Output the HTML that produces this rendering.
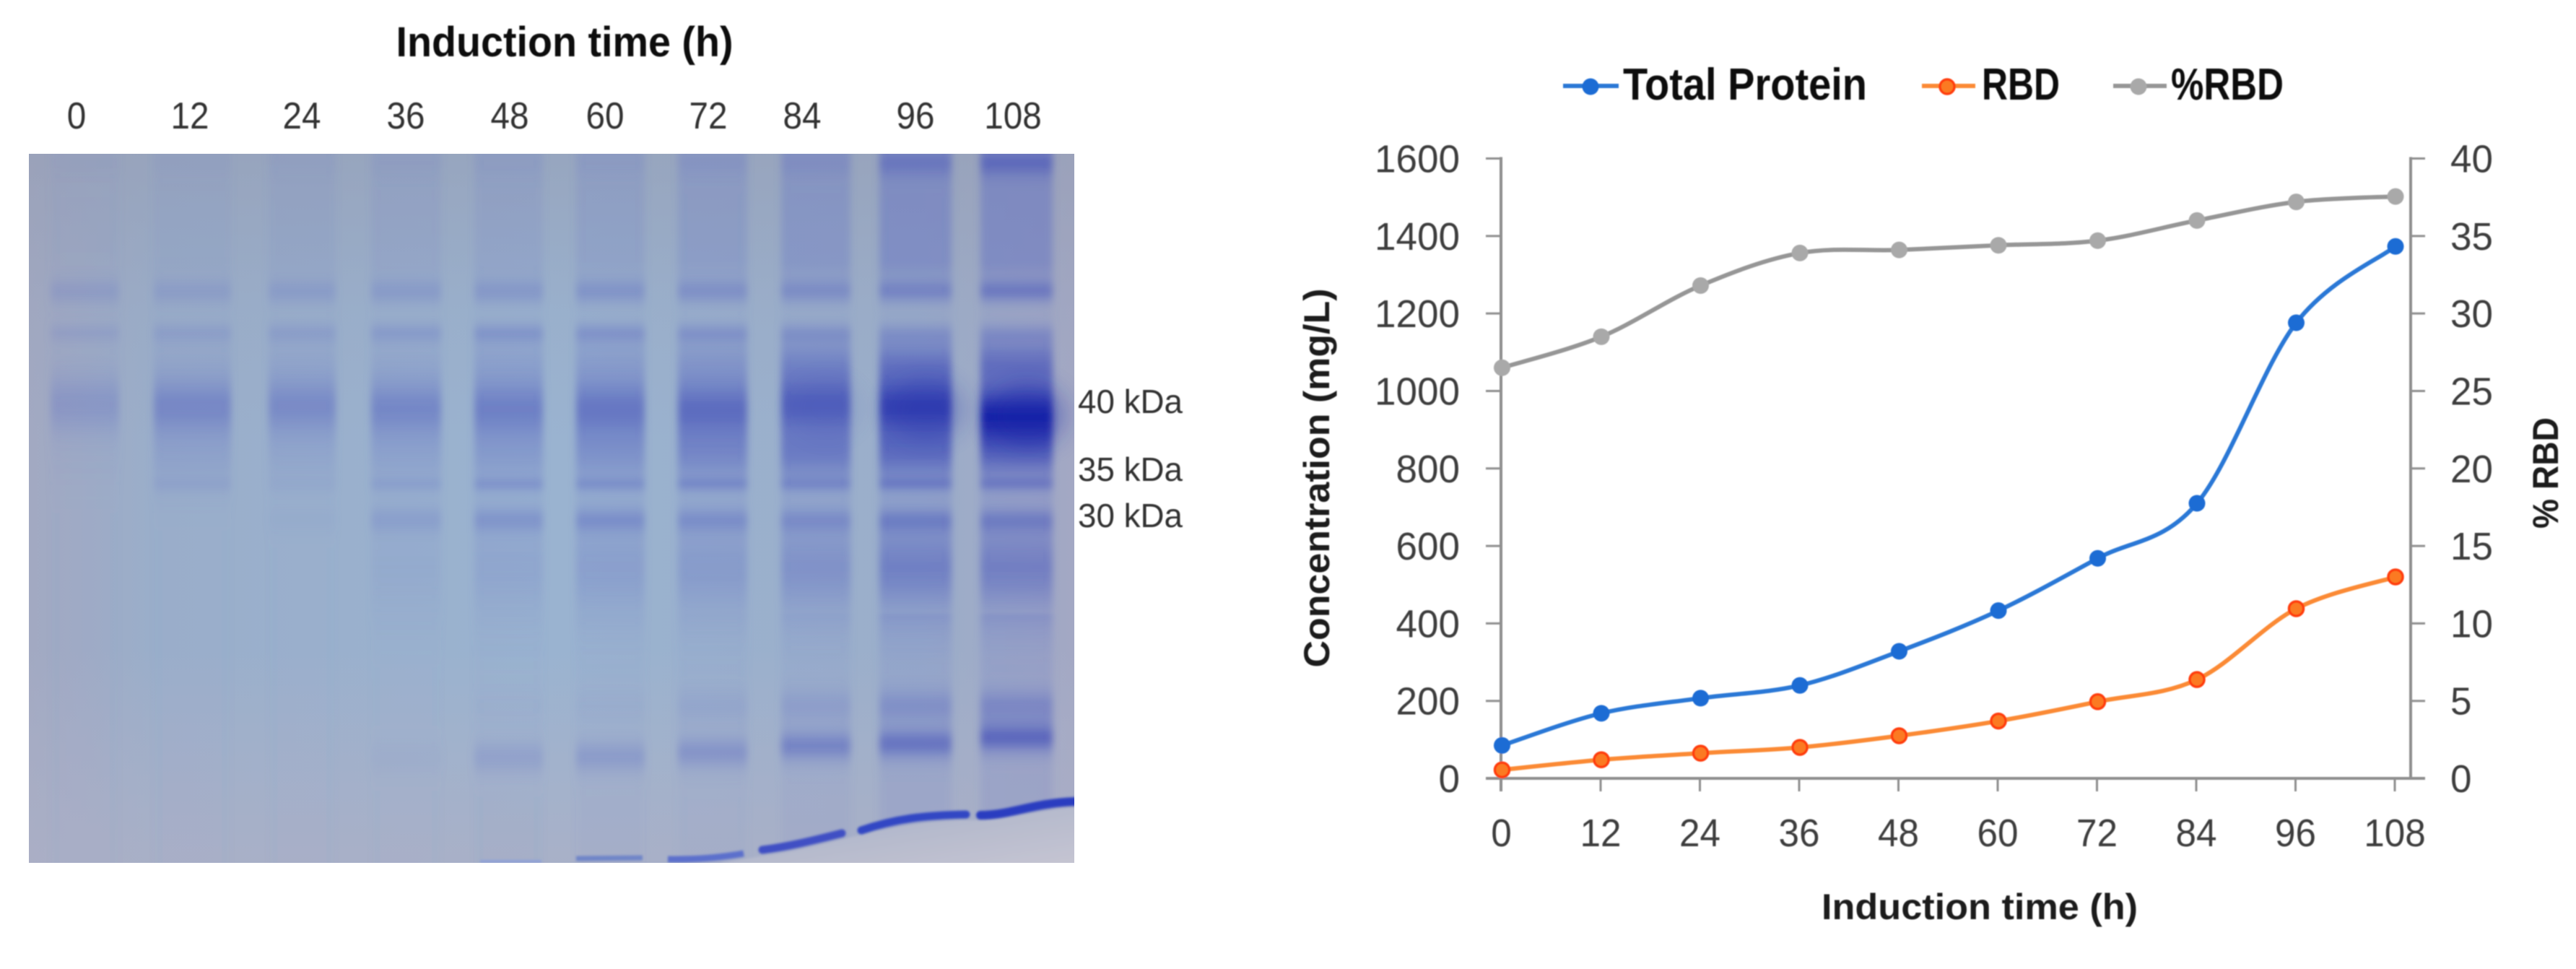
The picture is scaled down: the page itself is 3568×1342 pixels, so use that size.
<!DOCTYPE html>
<html lang="en">
<head>
<meta charset="utf-8">
<title>SDS-PAGE gel and induction time chart</title>
<style>
  html,body{margin:0;padding:0;background:#fff;}
  body{width:3568px;height:1342px;overflow:hidden;}
  svg{display:block;}
  text{font-family:"Liberation Sans",sans-serif;}
</style>
</head>
<body>
<svg id="figure" xmlns="http://www.w3.org/2000/svg" width="3568" height="1342" viewBox="0 0 3568 1342">
  <defs>
    <filter id="soft" x="-2%" y="-2%" width="104%" height="104%"><feGaussianBlur stdDeviation="0.9"/></filter>
    <filter id="laneBlur" x="-30%" y="-5%" width="160%" height="110%"><feGaussianBlur stdDeviation="5 2"/></filter>
    <filter id="dyeBlur" x="-5%" y="-50%" width="110%" height="200%"><feGaussianBlur stdDeviation="1.6"/></filter>
    <filter id="bulgeBlur" x="-30%" y="-30%" width="160%" height="160%"><feGaussianBlur stdDeviation="16"/></filter>
    <clipPath id="gelClip"><rect x="40" y="213" width="1448" height="982"/></clipPath>
    <linearGradient id="gelH" x1="0" x2="1" y1="0" y2="0">
      <stop offset="0" stop-color="#a2a9c2"/>
      <stop offset="0.12" stop-color="#9aaeca"/>
      <stop offset="0.5" stop-color="#9ab3d0"/>
      <stop offset="0.85" stop-color="#9baeca"/>
      <stop offset="1" stop-color="#a3a8c4"/>
    </linearGradient>
    <linearGradient id="gelTop" x1="0" x2="0" y1="0" y2="1">
      <stop offset="0" stop-color="#959db4" stop-opacity="0.6"/>
      <stop offset="0.22" stop-color="#959db4" stop-opacity="0.15"/>
      <stop offset="0.4" stop-color="#959db4" stop-opacity="0"/>
    </linearGradient>
    <linearGradient id="gelBottom" x1="0" x2="0" y1="0" y2="1">
      <stop offset="0.7" stop-color="#aeb2c8" stop-opacity="0"/>
      <stop offset="1" stop-color="#acb0c6" stop-opacity="0.8"/>
    </linearGradient>
    <linearGradient id="frontWash" x1="0" x2="1" y1="0" y2="1">
      <stop offset="0" stop-color="#a6b0c8"/>
      <stop offset="1" stop-color="#c6c5d2"/>
    </linearGradient>
  </defs>

  <g id="gel-panel">
    <g clip-path="url(#gelClip)">
      <rect x="40" y="213" width="1448" height="982" fill="url(#gelH)"/>
      <rect x="40" y="213" width="1448" height="982" fill="url(#gelTop)"/>
      <rect x="40" y="213" width="1448" height="982" fill="url(#gelBottom)"/>
      <g id="gel-lanes"></g>
      <path d="M1000 1195 L1053 1186 C1120 1176 1170 1160 1195 1156 C1260 1138 1310 1136 1345 1136 C1400 1134 1440 1120 1495 1118 L1495 1200 L1000 1200 Z" fill="url(#frontWash)" filter="url(#dyeBlur)"/>
      <g id="gel-dye" filter="url(#dyeBlur)">
        <path d="M665 1193 L750 1193" stroke="#8ea0d8" stroke-width="4" fill="none"/>
        <path d="M798 1189 L890 1188" stroke="#6f85c8" stroke-width="7" fill="none"/>
        <path d="M925 1190 Q980 1191 1030 1182" stroke="#5b70cc" stroke-width="9" fill="none"/>
        <path d="M1056 1177 C1095 1172 1130 1163 1166 1154" stroke="#3f4fc4" stroke-width="11" fill="none" stroke-linecap="round"/>
        <path d="M1193 1150 C1240 1134 1280 1129 1338 1128" stroke="#3346c4" stroke-width="11" fill="none" stroke-linecap="round"/>
        <path d="M1358 1129 C1400 1129 1430 1112 1490 1110" stroke="#2a3cc0" stroke-width="12" fill="none" stroke-linecap="round"/>
      </g>
    </g>
    <g filter="url(#soft)">
      <text x="782" y="78" text-anchor="middle" font-size="58" font-weight="700" fill="#111" textLength="467" lengthAdjust="spacingAndGlyphs">Induction time (h)</text>
      <g id="gel-lane-labels" font-size="52" fill="#333" text-anchor="middle"></g>
      <g font-size="46" fill="#333">
        <text x="1493" y="572" textLength="145" lengthAdjust="spacingAndGlyphs">40 kDa</text>
        <text x="1493" y="666" textLength="145" lengthAdjust="spacingAndGlyphs">35 kDa</text>
        <text x="1493" y="730" textLength="145" lengthAdjust="spacingAndGlyphs">30 kDa</text>
      </g>
    </g>
  </g>

  <g id="chart-panel" filter="url(#soft)">
    <g>
      <g id="legend-total">
        <line x1="2165" x2="2242" y1="119" y2="119" stroke="#2b78d6" stroke-width="6"/>
        <circle cx="2203" cy="120" r="11.5" fill="#1a6cd4"/>
        <text x="2248" y="138" font-size="62" font-weight="700" fill="#111" textLength="338" lengthAdjust="spacingAndGlyphs">Total Protein</text>
      </g>
      <g id="legend-rbd">
        <line x1="2662" x2="2736" y1="119" y2="119" stroke="#fb8a35" stroke-width="6"/>
        <circle cx="2697" cy="120" r="10" fill="#fb7a22" stroke="#ff3c10" stroke-width="3.5"/>
        <text x="2745" y="138" font-size="62" font-weight="700" fill="#111" textLength="108" lengthAdjust="spacingAndGlyphs">RBD</text>
      </g>
      <g id="legend-pct">
        <line x1="2927" x2="3001" y1="119" y2="119" stroke="#969696" stroke-width="6"/>
        <circle cx="2962" cy="120" r="11.5" fill="#a9a9a9"/>
        <text x="3007" y="138" font-size="62" font-weight="700" fill="#111" textLength="156" lengthAdjust="spacingAndGlyphs">%RBD</text>
      </g>
    </g>
    <g id="chart-axes"></g>
    <g id="chart-series"></g>
    <text x="2742" y="1273" text-anchor="middle" font-size="50" font-weight="700" fill="#1a1a1a" textLength="438" lengthAdjust="spacingAndGlyphs">Induction time (h)</text>
    <text transform="translate(1841,662) rotate(-90)" text-anchor="middle" font-size="50" font-weight="700" fill="#1a1a1a" textLength="525" lengthAdjust="spacingAndGlyphs">Concentration (mg/L)</text>
    <text transform="translate(3543,655) rotate(-90)" text-anchor="middle" font-size="50" font-weight="700" fill="#1a1a1a" textLength="154" lengthAdjust="spacingAndGlyphs">% RBD</text>
  </g>
</svg>

<script>
// ---- chart data ----
const timeCategories = [0, 12, 24, 36, 48, 60, 72, 84, 96, 108];
const totalProtein = [85, 168, 207, 240, 328, 433, 568, 710, 1176, 1373];
const rbd = [22, 48, 65, 80, 110, 148, 198, 255, 438, 520];
const percentRbd = [26.5, 28.5, 31.8, 33.9, 34.1, 34.4, 34.7, 36.0, 37.2, 37.55];
const leftTicks = [0, 200, 400, 600, 800, 1000, 1200, 1400, 1600];
const rightTicks = [0, 5, 10, 15, 20, 25, 30, 35, 40];

// ---- gel lane data (staining strength per lane, 0 = none, 1 = darkest) ----
const laneLabels = ['0', '12', '24', '36', '48', '60', '72', '84', '96', '108'];
const washUpper = [.03, .05, .07, .09, .12, .14, .20, .27, .36, .38];
const wellTop = [.02, .03, .03, .04, .04, .05, .07, .08, .18, .24];
const bandA = [.20, .20, .22, .24, .28, .32, .34, .36, .42, .48];
const bandB = [.15, .17, .18, .22, .26, .26, .24, .20, .16, .16];
const smearMid = [.02, .08, .10, .10, .18, .22, .28, .40, .50, .55];
const bandMain = [.28, .42, .40, .42, .46, .50, .54, .58, .68, .76];
const smearPost = [.02, .16, .12, .18, .26, .34, .42, .50, .58, .58];
const band35 = [0, .10, .05, .14, .22, .22, .22, .20, .22, .22];
const band30 = [0, 0, .05, .20, .28, .30, .28, .26, .30, .30];
const smearLow = [0, 0, 0, .08, .16, .24, .28, .36, .50, .50];
const smearNearFront = [0, 0, 0, 0, .03, .05, .12, .18, .26, .30];
const bandLow = [0, 0, 0, .05, .20, .26, .32, .42, .46, .50];
const bandLowCenter = [1050, 1050, 1050, 1050, 1049, 1048, 1042, 1033, 1030, 1022];
const fog = [0, 0, 0, 0, .01, .02, .03, .06, .12, .14];

// ---- chart axis functions ----
const svgNS = 'http://www.w3.org/2000/svg';
function xScale(t) { return 2080.5 + (t / 108) * 1237.5; }
function yLeft(v) { return 1078 - (v / 1600) * 858.5; }
function yRight(v) { return 1078 - (v / 40) * 858.5; }
function mk(tag, parent) {
  const el = document.createElementNS(svgNS, tag);
  parent.appendChild(el);
  return el;
}

const axes = document.getElementById('chart-axes');
const axisStroke = '#8f8f8f';

const leftAxis = mk('line', axes);


leftAxis.setAttribute('x1', 2079); leftAxis.setAttribute('x2', 2079);
leftAxis.setAttribute('y1', yLeft(1600) - 2); leftAxis.setAttribute('y2', 1096);
leftAxis.setAttribute('stroke', axisStroke); leftAxis.setAttribute('stroke-width', 4);

const rightAxis = mk('line', axes);


rightAxis.setAttribute('x1', 3339); rightAxis.setAttribute('x2', 3339);
rightAxis.setAttribute('y1', yRight(40) - 2); rightAxis.setAttribute('y2', 1080);
rightAxis.setAttribute('stroke', axisStroke); rightAxis.setAttribute('stroke-width', 4);

const bottomAxis = mk('line', axes);


bottomAxis.setAttribute('x1', 2058); bottomAxis.setAttribute('x2', 3359);
bottomAxis.setAttribute('y1', 1078); bottomAxis.setAttribute('y2', 1078);
bottomAxis.setAttribute('stroke', axisStroke); bottomAxis.setAttribute('stroke-width', 4);

leftTicks.forEach(function (v) {
  const y = yLeft(v);
  const tick = mk('line', axes);
  
  
  tick.setAttribute('x1', 2058); tick.setAttribute('x2', 2079);
  tick.setAttribute('y1', y); tick.setAttribute('y2', y);
  tick.setAttribute('stroke', axisStroke); tick.setAttribute('stroke-width', 3);
  const label = mk('text', axes);
  
  
  label.setAttribute('x', 2022); label.setAttribute('y', y + 19);
  label.setAttribute('text-anchor', 'end');
  label.setAttribute('font-size', 54); label.setAttribute('fill', '#3c3c3c');
  label.setAttribute('textLength', String(v).length * 29.5);
  label.setAttribute('lengthAdjust', 'spacingAndGlyphs');
  label.textContent = v;
});

rightTicks.forEach(function (v) {
  const y = yRight(v);
  const tick = mk('line', axes);
  
  
  tick.setAttribute('x1', 3339); tick.setAttribute('x2', 3359);
  tick.setAttribute('y1', y); tick.setAttribute('y2', y);
  tick.setAttribute('stroke', axisStroke); tick.setAttribute('stroke-width', 3);
  const label = mk('text', axes);
  
  
  label.setAttribute('x', 3394); label.setAttribute('y', y + 19);
  label.setAttribute('font-size', 54); label.setAttribute('fill', '#3c3c3c');
  label.setAttribute('textLength', String(v).length * 29.5);
  label.setAttribute('lengthAdjust', 'spacingAndGlyphs');
  label.textContent = v;
});

timeCategories.forEach(function (t) {
  const x = xScale(t) - 1;
  const tick = mk('line', axes);
  
  
  tick.setAttribute('x1', x); tick.setAttribute('x2', x);
  tick.setAttribute('y1', 1078); tick.setAttribute('y2', 1096);
  tick.setAttribute('stroke', axisStroke); tick.setAttribute('stroke-width', 3);
  const label = mk('text', axes);
  
  
  label.setAttribute('x', x); label.setAttribute('y', 1172);
  label.setAttribute('text-anchor', 'middle');
  label.setAttribute('font-size', 54); label.setAttribute('fill', '#3c3c3c');
  label.setAttribute('textLength', String(t).length * 28.5);
  label.setAttribute('lengthAdjust', 'spacingAndGlyphs');
  label.textContent = t;
});

function smoothPath(pts) {
  let d = 'M' + pts[0][0] + ' ' + pts[0][1];
  for (let i = 0; i < pts.length - 1; i++) {
    const p0 = pts[Math.max(i - 1, 0)];
    const p1 = pts[i];
    const p2 = pts[i + 1];
    const p3 = pts[Math.min(i + 2, pts.length - 1)];
    d += ' C' + (p1[0] + (p2[0] - p0[0]) / 6) + ' ' + (p1[1] + (p2[1] - p0[1]) / 6) +
         ' ' + (p2[0] - (p3[0] - p1[0]) / 6) + ' ' + (p2[1] - (p3[1] - p1[1]) / 6) +
         ' ' + p2[0] + ' ' + p2[1];
  }
  return d;
}

const seriesRoot = document.getElementById('chart-series');

function drawSeries(name, values, yFn, lineColor, fill, edge, radius, edgeWidth) {
  const pts = values.map(function (v, i) { return [xScale(timeCategories[i]), yFn(v)]; });
  const line = mk('path', seriesRoot);
  
  
  line.setAttribute('d', smoothPath(pts));
  line.setAttribute('fill', 'none');
  line.setAttribute('stroke', lineColor);
  line.setAttribute('stroke-width', 6);
  pts.forEach(function (p) {
    const dot = mk('circle', seriesRoot);
    
    
    dot.setAttribute('cx', p[0]);
    dot.setAttribute('cy', p[1]);
    dot.setAttribute('r', radius);
    dot.setAttribute('fill', fill);
    if (edge) {
      dot.setAttribute('stroke', edge);
      dot.setAttribute('stroke-width', edgeWidth);
    }
  });
}

drawSeries('percent-rbd', percentRbd, yRight, '#969696', '#a9a9a9', null, 11.5, 0);
drawSeries('total-protein', totalProtein, yLeft, '#2b78d6', '#1a6cd4', null, 11.5, 0);
drawSeries('rbd', rbd, yLeft, '#fb8a35', '#fb7a22', '#ff3c10', 10, 3.5);

// ---- gel lanes ----
const laneLeft = [70, 213, 372, 514, 657, 798, 939, 1082, 1218, 1358];
const laneRight = [165, 320, 465, 611, 752, 893, 1035, 1178, 1318, 1458];
const labelCenter = [106, 263, 418, 562, 706, 838, 981, 1111, 1268, 1403];
const labelWidthPerChar = 26.5;
const mainCenter = [560, 562, 562, 564, 564, 564, 564, 560, 562, 570];
const bulge = [0, 0, 0, 0, 0, 0, 0, .06, .24, .36];

function gauss(y, c, s) { const d = (y - c) / s; return Math.exp(-d * d); }
function upperWash(y) { return y < 360 ? 1 : Math.exp(-Math.pow((y - 360) / 30, 2)); }

function laneStrength(l, y) {
  let t = 0.015;
  t += washUpper[l] * upperWash(y);
  t += wellTop[l] * gauss(y, 226, 18);
  t += bandA[l] * gauss(y, 404, 18);
  t += bandB[l] * gauss(y, 461, 14);
  t += smearMid[l] * gauss(y, 500, 42);
  t += bandMain[l] * gauss(y, mainCenter[l], 42);
  t += smearPost[l] * gauss(y, 630, 48);
  t += band35[l] * gauss(y, 671, 10);
  t += band30[l] * gauss(y, 720, 18);
  t += smearLow[l] * gauss(y, 785, 70);
  t += smearNearFront[l] * gauss(y, 978, 24);
  t += bandLow[l] * gauss(y, bandLowCenter[l], 22);
  if (y > 850) t += fog[l];
  return Math.min(1, t);
}

function laneColor(t) {
  const k = t * t;
  const r = Math.round(100 + (15 - 100) * k);
  const g = Math.round(115 + (25 - 115) * k);
  const b = Math.round(200 + (165 - 200) * k);
  return 'rgb(' + r + ',' + g + ',' + b + ')';
}

const defs = document.querySelector('#figure defs');
const lanesGroup = document.getElementById('gel-lanes');
const labelsGroup = document.getElementById('gel-lane-labels');

laneLabels.forEach(function (text, l) {
  const grad = mk('linearGradient', defs);
  grad.setAttribute('id', 'lane' + l);
  grad.setAttribute('gradientUnits', 'userSpaceOnUse');
  grad.setAttribute('x1', 0); grad.setAttribute('x2', 0);
  grad.setAttribute('y1', 213); grad.setAttribute('y2', 1195);
  for (let y = 213; y <= 1195; y += 5) {
    const t = laneStrength(l, y);
    const stop = mk('stop', grad);
    stop.setAttribute('offset', (y - 213) / 982);
    stop.setAttribute('stop-color', laneColor(t));
    stop.setAttribute('stop-opacity', Math.min(1, t * 1.05).toFixed(3));
  }
  const rect = mk('rect', lanesGroup);
  
  
  rect.setAttribute('x', laneLeft[l]);
  rect.setAttribute('y', 205);
  rect.setAttribute('width', laneRight[l] - laneLeft[l]);
  rect.setAttribute('height', 1000);
  rect.setAttribute('fill', 'url(#lane' + l + ')');
  rect.setAttribute('filter', 'url(#laneBlur)');

  if (bulge[l] > 0) {
    const blob = mk('ellipse', lanesGroup);
    
    
    blob.setAttribute('cx', (laneLeft[l] + laneRight[l]) / 2 + 15);
    blob.setAttribute('cy', mainCenter[l] + 5);
    blob.setAttribute('rx', (laneRight[l] - laneLeft[l]) / 2 + 4);
    blob.setAttribute('ry', 44);
    blob.setAttribute('fill', '#1320a8');
    blob.setAttribute('opacity', bulge[l]);
    blob.setAttribute('filter', 'url(#bulgeBlur)');
  }

  const label = mk('text', labelsGroup);
  
  
  label.setAttribute('x', labelCenter[l]);
  label.setAttribute('y', 178);
  label.setAttribute('textLength', text.length * labelWidthPerChar);
  label.setAttribute('lengthAdjust', 'spacingAndGlyphs');
  label.textContent = text;
});
</script>
</body>
</html>
